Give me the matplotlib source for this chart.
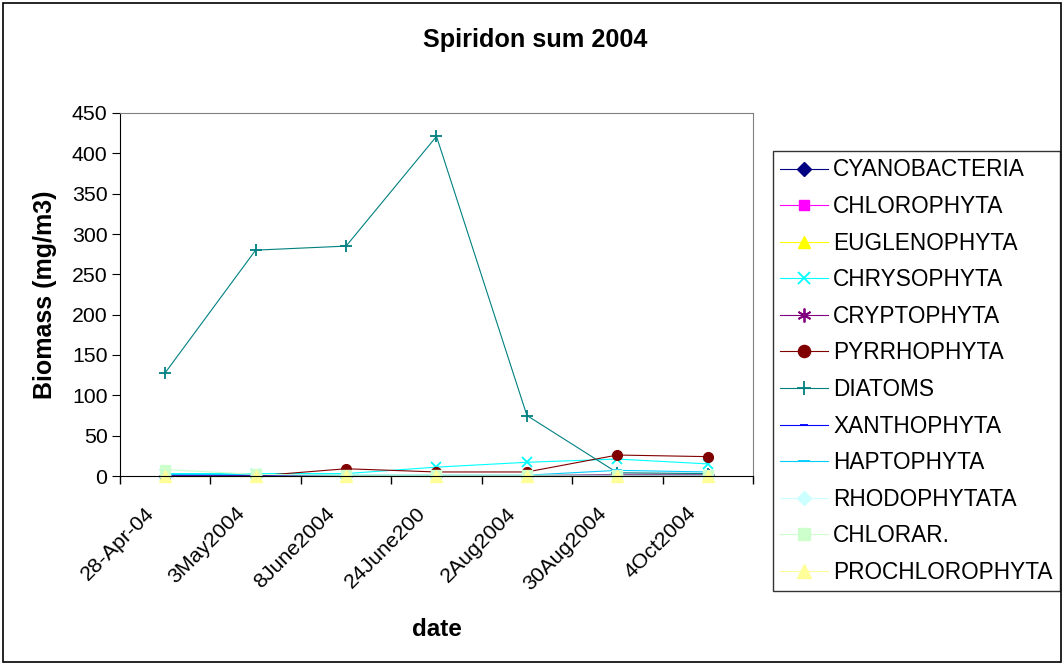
import matplotlib
matplotlib.use("Agg")
from matplotlib import pyplot as plt
from matplotlib.patches import Rectangle
from matplotlib.transforms import ScaledTranslation

plt.rcParams["font.family"] = ["Liberation Sans", "DejaVu Sans"]

dates = ["28-Apr-04", "3May2004", "8June2004", "24June200", "2Aug2004", "30Aug2004", "4Oct2004"]

cyanobacteria = [0.5, 0.5, 0.3, 0.3, 0.3, 1, 1]
chlorophyta = [1, 0.3, 0.3, 0.3, 0.3, 0.5, 0.5]
euglenophyta = [0, 0, 0, 0, 0, 0, 0]
chrysophyta = [3, 3, 3, 11, 17, 21, 15]
cryptophyta = [1, 0.5, 0.5, 0.5, 0.5, 2, 2]
pyrrhophyta = [0, 0, 9, 5, 5, 26, 24]
diatoms = [128, 280, 285, 421, 75, 4, 3]
xanthophyta = [0, 0, 0, 0, 0, 0.5, 0.5]
haptophyta = [2, 2, 1, 1, 1, 7, 5]
rhodophytata = [0.5, 0.5, 0.5, 0.5, 0.5, 0.5, 0.5]
chlorar = [8, 2, 1, 1, 1, 1, 1]
prochlorophyta = [0, 0, 0, 0, 0, 0, 0]

series = [
    ("CYANOBACTERIA", cyanobacteria, "#000080", "D", 6),
    ("CHLOROPHYTA", chlorophyta, "#FF00FF", "s", 6),
    ("EUGLENOPHYTA", euglenophyta, "#FFFF00", "^", 7),
    ("CHRYSOPHYTA", chrysophyta, "#00FFFF", "x", 7),
    ("CRYPTOPHYTA", cryptophyta, "#800080", (6, 2, 0), 8),
    ("PYRRHOPHYTA", pyrrhophyta, "#800000", "o", 7),
    ("DIATOMS", diatoms, "#008080", "+", 8),
    ("XANTHOPHYTA", xanthophyta, "#0000FF", "_", 5),
    ("HAPTOPHYTA", haptophyta, "#00CCFF", "_", 7),
    ("RHODOPHYTATA", rhodophytata, "#CCFFFF", "D", 6),
    ("CHLORAR.", chlorar, "#CCFFCC", "s", 7),
    ("PROCHLOROPHYTA", prochlorophyta, "#FFFF99", "^", 8),
]

W, H = 1064, 665
fig = plt.figure(figsize=(W / 100, H / 100), dpi=100)
ax = fig.add_axes([120 / W, 1 - 476 / H, (753 - 120) / W, (476 - 113) / H])

x = list(range(len(dates)))
for name, vals, color, marker, ms in series:
    mew = 1.3 if marker in ("x", "+", "_") or isinstance(marker, tuple) else 1
    ax.plot(x, vals, color=color, marker=marker, markersize=ms, markeredgewidth=mew,
            markeredgecolor=color, markerfacecolor=color, linewidth=0.8, label=name, clip_on=False)

ax.set_xlim(-0.5, len(dates) - 0.5)
ax.set_ylim(0, 450)
ax.set_yticks(range(0, 451, 50))
ax.set_xticks(x)
ax.set_xticklabels(dates, rotation=45, ha="right", rotation_mode="anchor")
ax.set_xticks([i - 0.5 for i in range(len(dates) + 1)], minor=True)
ax.tick_params(axis="x", which="major", length=0, pad=14, labelsize=15.3)
ax.tick_params(axis="x", which="minor", length=6, direction="out", width=1)
ax.tick_params(axis="y", length=6, direction="out", labelsize=15.3, pad=3)

shift = ScaledTranslation(-21 / 100, -8 / 100, fig.dpi_scale_trans)
for lbl in ax.get_xticklabels():
    lbl.set_transform(lbl.get_transform() + shift)

for side in ("top", "right"):
    ax.spines[side].set_color("#808080")
for side in ("left", "bottom"):
    ax.spines[side].set_color("black")

ax.set_xlabel("date", fontsize=17.5, fontweight="bold", labelpad=17.5)
ax.set_ylabel("Biomass (mg/m3)", fontsize=18, fontweight="bold", labelpad=11)
fig.suptitle("Spiridon sum 2004", fontsize=18.2, fontweight="bold", x=535 / W, y=1 - 40 / H, va="center")

leg = fig.legend(loc="upper left", bbox_to_anchor=(773 / W, 1 - 151 / H), fontsize=16.3,
                 frameon=True, fancybox=False, edgecolor="black", handlelength=2.1,
                 labelspacing=0.6, borderpad=0.33, handletextpad=0.22, borderaxespad=0,
                 markerscale=1.25)
leg.get_frame().set_linewidth(1)

fig.patches.append(Rectangle((3 / W, 3 / H), 1 - 6 / W, 1 - 6 / H, transform=fig.transFigure,
                             fill=False, edgecolor="black", linewidth=1.2))

fig.savefig("out.png", dpi=100)
